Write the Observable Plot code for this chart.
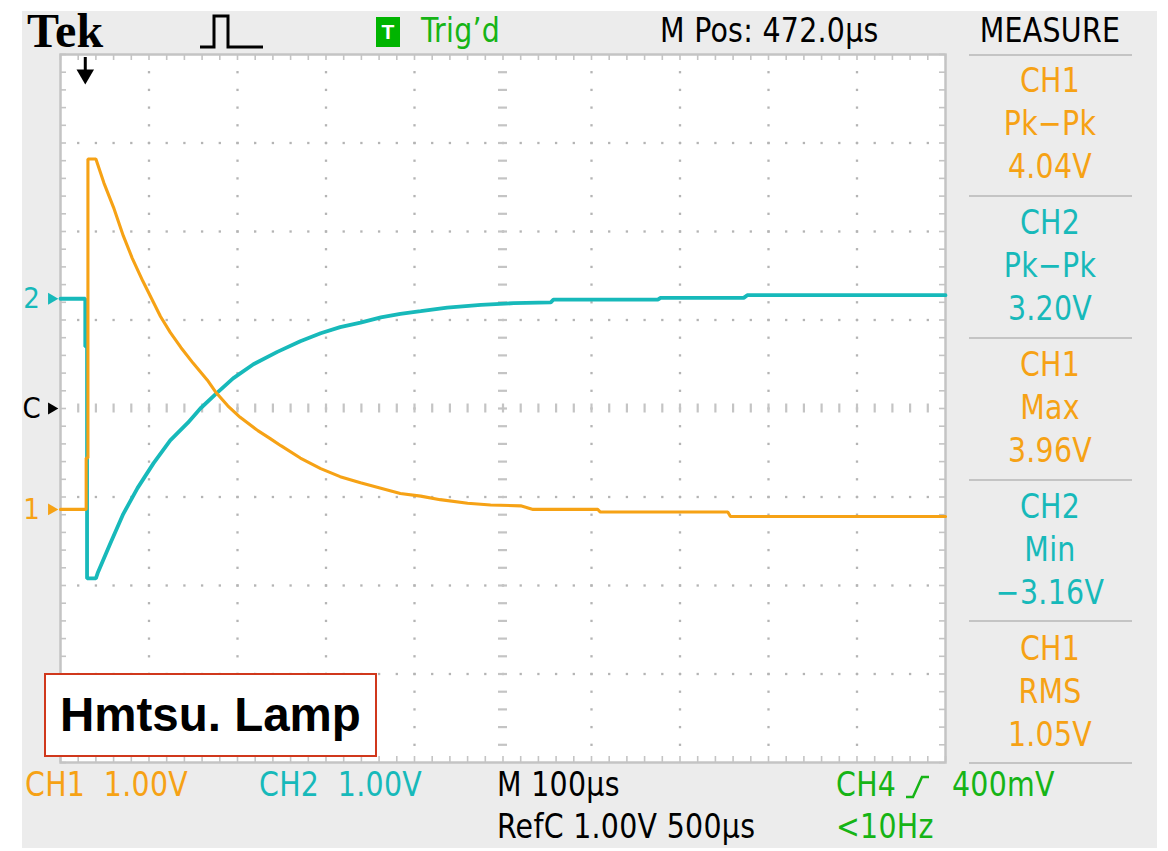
<!DOCTYPE html>
<html>
<head>
<meta charset="utf-8">
<script src="https://cdn.jsdelivr.net/npm/d3@7"></script>
<script src="https://cdn.jsdelivr.net/npm/@observablehq/plot@0.6"></script>
<style>
  body { margin: 0; background: #fff; }
  #root { position: relative; width: 1168px; height: 851px; overflow: hidden; background: #fff;
          font-family: 'Liberation Sans Narrow', 'Arial Narrow', 'DejaVu Sans Condensed', sans-serif; }
  .panel { position: absolute; left: 22px; top: 11px; width: 1135px; height: 837px; background: #ececec; }
  .lbl { position: absolute; line-height: 1; white-space: pre; font-size: 34px; letter-spacing: 0.3px; }
  .sep { position: absolute; left: 969px; width: 163px; height: 2px; background: #c4c4c4; }
  #chart { position: absolute; left: 22px; top: 44px; }
  .box { position: absolute; left: 44px; top: 673px; width: 329px; height: 80px; background: #fff;
         border: 2px solid #d0381c; }
  .boxtxt { position: absolute; left: 14px; top: 11px; font-family: 'Liberation Sans', Arial, sans-serif;
            font-weight: bold; font-size: 47.5px; color: #000; line-height: 1.2; white-space: pre; }
</style>
</head>
<body>
<div id="root">
  <div class="panel"></div>
  <div id="chart"></div>
</div>
<script>
// ---------------- data (read from the screen) ----------------
// time axis: microseconds from left edge of screen (M 100 µs/div, 10 div)
const ch1Time  = [0, 29, 29, 31, 31, 40, 49, 60, 71, 81, 93, 102, 113, 124, 136, 150, 166, 175, 189, 203, 223, 237, 249, 271, 294, 316, 339, 362, 384, 407, 429, 460, 486, 520, 534, 607, 610, 754, 757, 1000];
const ch1Volts = [0, 0, 0.58, 0.58, 3.96, 3.96, 3.69, 3.41, 3.09, 2.84, 2.58, 2.40, 2.18, 2.00, 1.83, 1.65, 1.46, 1.33, 1.17, 1.04, 0.89, 0.80, 0.72, 0.58, 0.46, 0.37, 0.30, 0.24, 0.18, 0.15, 0.11, 0.07, 0.05, 0.04, 0.00, 0.00, -0.03, -0.03, -0.08, -0.08];
const ch2Time  = [0, 28, 28, 30, 30, 40, 42, 56, 71, 87, 105, 124, 144, 158, 175, 195, 218, 245, 271, 294, 316, 339, 362, 384, 407, 437, 475, 512, 554, 557, 675, 678, 772, 776, 1000];
const ch2Volts = [0, 0, -0.54, -0.54, -3.16, -3.16, -3.10, -2.77, -2.43, -2.14, -1.86, -1.60, -1.40, -1.24, -1.08, -0.90, -0.74, -0.60, -0.48, -0.39, -0.32, -0.27, -0.21, -0.17, -0.14, -0.10, -0.07, -0.05, -0.04, -0.01, -0.01, 0.01, 0.01, 0.04, 0.04];

const ch1VoltsPerDiv = 1.0, ch2VoltsPerDiv = 1.0;
const ch1Position = -1.14, ch2Position = 1.24;   // ground markers, in divisions
const triggerTime = 28;                          // µs, trigger arrow

const measureLabels = [
  ["CH1", "Pk\u2212Pk", "4.04V", "ch1"],
  ["CH2", "Pk\u2212Pk", "3.20V", "ch2"],
  ["CH1", "Max", "3.96V", "ch1"],
  ["CH2", "Min", "\u22123.16V", "ch2"],
  ["CH1", "RMS", "1.05V", "ch1"]
];

// ---------------- styling ----------------
const ORANGE = "#f6a215", TEAL = "#17b9ba", GREEN = "#16b416", GRID = "#b4b4b4", BORDER = "#c4c4c4";
const FONT = "'Liberation Sans Narrow','Arial Narrow','DejaVu Sans Condensed',sans-serif";
const SQUEEZE = 0.93;

const ch1 = ch1Time.map((t, i) => ({t, d: ch1Volts[i] / ch1VoltsPerDiv + ch1Position}));
const ch2 = ch2Time.map((t, i) => ({t, d: ch2Volts[i] / ch2VoltsPerDiv + ch2Position}));

const xMinor = d3.range(0, 51).map(i => i * 20);
const yMinor = d3.range(-20, 21).map(i => i / 5);
const xMajor = [100, 200, 300, 400, 600, 700, 800, 900];
const yMajor = [-3, -2, -1, 1, 2, 3];
const gridDots = [];
for (const x of xMajor) for (const y of yMinor) if (Math.abs(y) < 4) gridDots.push({x, y});
for (const y of yMajor) for (const x of xMinor) if (x > 0 && x < 1000) gridDots.push({x, y});

const pxDiv = 88.5;
const xPx = 100 / pxDiv;   // µs per pixel
const yPx = 1 / pxDiv;     // div per pixel

const markers = [
  {y: ch2Position, label: "2", color: TEAL},
  {y: 0, label: "C", color: "#000"},
  {y: ch1Position, label: "1", color: ORANGE}
];

const chart = Plot.plot({
  width: 38 + 885 + 12,
  height: 10 + 708 + 10,
  marginLeft: 38, marginRight: 12, marginTop: 10, marginBottom: 10,
  x: {domain: [0, 1000], axis: null},
  y: {domain: [-4, 4], axis: null},
  style: {background: "transparent", overflow: "visible"},
  marks: [
    Plot.frame({fill: "#fff", stroke: null}),
    Plot.dot(gridDots, {x: "x", y: "y", symbol: "square", r: 1.3, fill: GRID, stroke: null}),
    // center cross ticks
    Plot.ruleY(yMinor.filter(y => Math.abs(y) < 4), {y: d => d, x1: 500 - 4.5 * xPx, x2: 500 + 4.5 * xPx, stroke: BORDER, strokeWidth: 2.2}),
    Plot.ruleX(xMinor.filter(x => x > 0 && x < 1000), {x: d => d, y1: -4.5 * yPx, y2: 4.5 * yPx, stroke: BORDER, strokeWidth: 2.2}),
    // border ticks
    Plot.ruleX(xMinor, {x: d => d, y1: 4, y2: 4 - 6 * yPx, stroke: BORDER, strokeWidth: 1.6}),
    Plot.ruleX(xMinor, {x: d => d, y1: -4, y2: -4 + 6 * yPx, stroke: BORDER, strokeWidth: 1.6}),
    Plot.ruleY(yMinor, {y: d => d, x1: 0, x2: 6 * xPx, stroke: BORDER, strokeWidth: 1.6}),
    Plot.ruleY(yMinor, {y: d => d, x1: 1000, x2: 1000 - 6 * xPx, stroke: BORDER, strokeWidth: 1.6}),
    Plot.frame({stroke: BORDER, strokeWidth: 2.5}),
    // traces
    Plot.line(ch2, {x: "t", y: "d", stroke: TEAL, strokeWidth: 3.8, strokeLinejoin: "miter"}),
    Plot.line(ch1, {x: "t", y: "d", stroke: ORANGE, strokeWidth: 3.1, strokeLinejoin: "miter"}),
    // channel markers left of screen
    Plot.text(markers, {x: d => 0, y: "y", text: "label", fill: "color", dx: -29, fontSize: 29, fontFamily: FONT}),
    Plot.dot(markers, {x: d => 0, y: "y", symbol: "triangle", rotate: 90, r: 4.4, fill: "color", stroke: null, dx: -9}),
    // trigger arrow
    Plot.ruleX([triggerTime], {x: d => d, y1: 4 - 3 * yPx, y2: 4 - 16 * yPx, stroke: "#000", strokeWidth: 3}),
    Plot.dot([triggerTime], {x: d => d, y: 4 - 20 * yPx, symbol: "triangle", rotate: 180, r: 6.5, fill: "#000", stroke: null})
  ]
});
document.getElementById("chart").appendChild(chart);

const root = document.getElementById("root");
function label(text, x, yc, color, opts = {}) {
  const el = document.createElement("div");
  el.className = "lbl";
  el.textContent = text;
  el.style.color = color;
  const size = opts.size || 34;
  el.style.top = (yc - size * 0.55) + "px";
  el.style.fontSize = size + "px";
  if (opts.family) el.style.fontFamily = opts.family;
  if (opts.weight) el.style.fontWeight = opts.weight;
  const sq = opts.squeeze == null ? SQUEEZE : opts.squeeze;
  el.style.left = x + "px";
  if (opts.center) { el.style.transform = "translateX(-50%) scaleX(" + sq + ")"; }
  else { el.style.transformOrigin = "0 50%"; el.style.transform = "scaleX(" + sq + ")"; }
  root.appendChild(el);
  return el;
}

// top bar
label("Tek", 27, 33, "#000", {size: 48, family: "'Liberation Serif','DejaVu Serif',serif", weight: "bold", squeeze: 1});
const pulse = document.createElementNS("http://www.w3.org/2000/svg", "svg");
pulse.setAttribute("width", "70"); pulse.setAttribute("height", "40");
pulse.style.position = "absolute"; pulse.style.left = "197px"; pulse.style.top = "12px";
pulse.innerHTML = '<path d="M3,35 H17 V4 H31 V35 H66" fill="none" stroke="#000" stroke-width="3"/>';
root.appendChild(pulse);
const tbox = document.createElement("div");
Object.assign(tbox.style, {position: "absolute", left: "376px", top: "17px", width: "24px", height: "30px",
  background: "#00b400", color: "#fff", font: "bold 21px 'Liberation Sans',Arial,sans-serif",
  textAlign: "center", lineHeight: "30px"});
tbox.textContent = "T";
root.appendChild(tbox);
label("Trig\u2019d", 421, 32, GREEN);
label("M Pos: 472.0\u00b5s", 660, 32, "#000");

// measure panel
label("MEASURE", 1050, 32, "#000", {center: true});
const sepY = [55, 196, 338, 480, 621, 763];
for (const y of sepY) {
  const s = document.createElement("div");
  s.className = "sep"; s.style.top = (y - 1) + "px";
  root.appendChild(s);
}
measureLabels.forEach((m, i) => {
  const c = m[3] === "ch1" ? ORANGE : TEAL;
  const base = 82 + i * 142;
  label(m[0], 1050, base, c, {center: true});
  label(m[1], 1050, base + 43, c, {center: true});
  label(m[2], 1050, base + 86, c, {center: true});
});

// bottom bar
label("CH1  1.00V", 25, 786, ORANGE);
label("CH2  1.00V", 259, 786, TEAL);
label("M 100\u00b5s", 497, 786, "#000");
label("RefC 1.00V 500\u00b5s", 497, 828, "#000");
label("CH4", 836, 786, GREEN);
const edge = document.createElementNS("http://www.w3.org/2000/svg", "svg");
edge.setAttribute("width", "28"); edge.setAttribute("height", "30");
edge.style.position = "absolute"; edge.style.left = "904px"; edge.style.top = "772px";
edge.innerHTML = '<path d="M2,25 H9 L18,5 H25" fill="none" stroke="' + GREEN + '" stroke-width="2.5"/>';
root.appendChild(edge);
label("400mV", 952, 786, GREEN);
label("<10Hz", 836, 828, GREEN);

// annotation box
const box = document.createElement("div");
box.className = "box";
const bt = document.createElement("div");
bt.className = "boxtxt"; bt.textContent = "Hmtsu. Lamp";
box.appendChild(bt);
root.appendChild(box);
</script>
</body>
</html>
